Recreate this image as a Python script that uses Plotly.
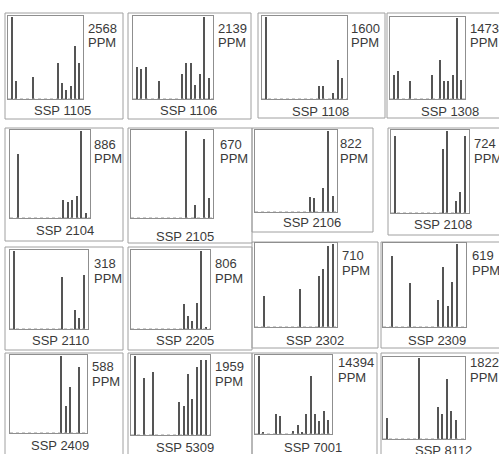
import plotly.graph_objects as go

# ---- data: relative intensity (%) in 17 channels per sample ----
channels = list(range(17))

samples = ["SSP 1105", "SSP 1106", "SSP 1108", "SSP 1308",
           "SSP 2104", "SSP 2105", "SSP 2106", "SSP 2108",
           "SSP 2110", "SSP 2205", "SSP 2302", "SSP 2309",
           "SSP 2409", "SSP 5309", "SSP 7001", "SSP 8112"]

ppm = [2568, 2139, 1600, 1473,
       886, 670, 822, 724,
       318, 806, 710, 619,
       588, 1959, 14394, 1822]

ssp_1105 = [100, 22, 0, 0, 0, 27, 0, 0, 0, 0, 0, 44, 20, 11, 16, 65, 44]
ssp_1106 = [39, 36, 39, 0, 0, 22, 0, 0, 0, 0, 31, 44, 44, 17, 31, 100, 26]
ssp_1108 = [100, 0, 0, 0, 0, 0, 0, 0, 0, 0, 0, 16, 16, 0, 7, 48, 25]
ssp_1308 = [29, 35, 0, 0, 22, 0, 0, 0, 0, 29, 0, 48, 22, 22, 30, 100, 23]
ssp_2104 = [0, 73, 0, 0, 0, 0, 0, 0, 0, 0, 0, 21, 18, 21, 25, 100, 6]
ssp_2105 = [0, 0, 0, 0, 0, 0, 0, 0, 0, 0, 0, 100, 0, 15, 0, 91, 23]
ssp_2106 = [0, 0, 0, 0, 0, 0, 0, 0, 0, 0, 0, 19, 17, 0, 29, 100, 20]
ssp_2108 = [94, 0, 0, 0, 0, 0, 0, 0, 0, 0, 0, 78, 100, 0, 15, 26, 94]
ssp_2110 = [100, 0, 0, 0, 0, 0, 0, 0, 0, 0, 0, 67, 0, 0, 24, 14, 69]
ssp_2205 = [0, 0, 0, 0, 0, 0, 0, 0, 0, 0, 0, 32, 16, 10, 33, 100, 3]
ssp_2302 = [0, 37, 0, 0, 0, 0, 0, 0, 0, 46, 0, 0, 0, 61, 70, 98, 100]
ssp_2309 = [0, 85, 0, 0, 0, 53, 0, 0, 0, 0, 0, 33, 72, 25, 54, 100, 0]
ssp_2409 = [0, 0, 0, 0, 0, 0, 0, 0, 0, 0, 0, 100, 35, 60, 0, 86, 0]
ssp_5309 = [100, 0, 72, 0, 79, 0, 0, 0, 0, 0, 42, 36, 77, 45, 86, 95, 95]
ssp_7001 = [100, 3, 0, 0, 26, 23, 0, 0, 4, 12, 2, 25, 74, 25, 17, 30, 18]
ssp_8112 = [26, 0, 0, 0, 0, 0, 0, 100, 0, 0, 0, 40, 31, 74, 35, 24, 0]

spectra = [ssp_1105, ssp_1106, ssp_1108, ssp_1308,
           ssp_2104, ssp_2105, ssp_2106, ssp_2108,
           ssp_2110, ssp_2205, ssp_2302, ssp_2309,
           ssp_2409, ssp_5309, ssp_7001, ssp_8112]

# ---- page geometry (pixels) ----
W, H = 499, 454

# outer card frame (x0, y0, x1, y1)
outer_boxes = [
    (5, 13, 123, 119), (128, 13, 251, 119), (258, 13, 385, 118), (387, 13, 505, 118),
    (5, 128, 123, 241), (128, 128, 252, 243), (252, 128, 373, 232), (388, 128, 505, 235),
    (5, 247, 123, 350), (128, 247, 252, 350), (252, 242, 378, 348), (381, 242, 505, 348),
    (5, 353, 123, 462), (128, 353, 252, 462), (252, 353, 377, 462), (381, 353, 505, 462),
]
# inner plot frame (x0, y0, x1, y1)
plot_boxes = [
    (8, 16, 83, 99), (133, 16, 213, 99), (262, 16, 347, 99), (390, 17, 465, 99),
    (10, 130, 90, 218), (131, 130, 213, 218), (255, 130, 337, 212), (391, 130, 469, 213),
    (10, 250, 88, 329), (131, 250, 210, 329), (255, 243, 337, 327), (383, 243, 466, 327),
    (10, 355, 87, 433), (131, 355, 210, 435), (255, 355, 332, 434), (383, 357, 465, 439),
]
# concentration label anchor (left x, centre y of first line)
ppm_pos = [
    (86, 28), (216, 28), (349, 28), (468, 28),
    (92, 144), (218, 144), (338, 143), (472, 143),
    (92, 263), (213, 263), (340, 255), (470, 255),
    (90, 366), (213, 366), (336, 362), (468, 362),
]
# sample label centre
label_pos = [
    (63, 110), (188, 110), (320, 111), (450, 111),
    (65, 230), (185, 237), (312, 223), (443, 225),
    (60, 340), (185, 340), (315, 340), (437, 340),
    (60, 445), (185, 447), (313, 447), (443, 450),
]

FONT = dict(family="Liberation Sans, Arial, sans-serif", size=13, color="#3a3a3a")
BAR_COLOR = "#555555"
FRAME_COLOR = "#8f8f8f"

fig = go.Figure()
layout = dict(
    width=W, height=H,
    margin=dict(l=0, r=0, t=0, b=0),
    paper_bgcolor="white", plot_bgcolor="white",
    showlegend=False, bargap=0,
)
shapes = []
annotations = []

for i, (name, conc, values) in enumerate(zip(samples, ppm, spectra)):
    k = "" if i == 0 else str(i + 1)
    x0, y0, x1, y1 = plot_boxes[i]

    fig.add_trace(go.Scatter(
        x=[-0.9, 16.9], y=[0, 0], mode="lines",
        line=dict(color="#9a9a9a", width=1, dash="dot"),
        xaxis="x" + k, yaxis="y" + k, hoverinfo="skip",
    ))
    fig.add_trace(go.Bar(
        x=channels, y=values, width=0.32,
        marker=dict(color=BAR_COLOR, line=dict(width=0)),
        xaxis="x" + k, yaxis="y" + k,
    ))

    axis_style = dict(showline=True, mirror=True, linecolor=FRAME_COLOR, linewidth=1,
                      showgrid=False, zeroline=False, showticklabels=False, ticks="",
                      fixedrange=True)
    layout["xaxis" + k] = dict(domain=[x0 / W, x1 / W], range=[-0.9, 16.9],
                               anchor="y" + k, **axis_style)
    layout["yaxis" + k] = dict(domain=[1 - y1 / H, 1 - y0 / H], range=[0, 101],
                               anchor="x" + k, **axis_style)

    ox0, oy0, ox1, oy1 = outer_boxes[i]
    shapes.append(dict(type="rect", xref="paper", yref="paper",
                       x0=ox0 / W, x1=ox1 / W, y0=1 - oy1 / H, y1=1 - oy0 / H,
                       line=dict(color="#a0a0a0", width=1), layer="below"))

    px, py = ppm_pos[i]
    annotations.append(dict(text=str(conc), x=px / W, y=1 - py / H, xref="paper", yref="paper",
                            xanchor="left", yanchor="middle", showarrow=False, font=FONT))
    annotations.append(dict(text="PPM", x=px / W, y=1 - (py + 15) / H, xref="paper", yref="paper",
                            xanchor="left", yanchor="middle", showarrow=False, font=FONT))
    lx, ly = label_pos[i]
    annotations.append(dict(text=name, x=lx / W, y=1 - ly / H, xref="paper", yref="paper",
                            xanchor="center", yanchor="middle", showarrow=False, font=FONT))

layout["shapes"] = shapes
layout["annotations"] = annotations
fig.update_layout(**layout)

fig.write_html("out.html")
